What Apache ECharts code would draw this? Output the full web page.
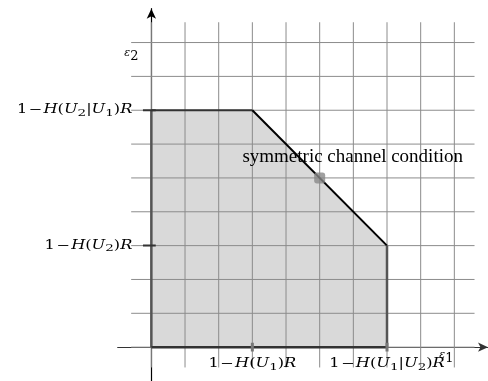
<!DOCTYPE html>
<html>
<head>
<meta charset="utf-8">
<script src="https://cdn.jsdelivr.net/npm/echarts@6/dist/echarts.min.js"></script>
<style>
  html, body { margin: 0; padding: 0; background: #fff; }
  #main { width: 488px; height: 381px; }
</style>
</head>
<body>
<div id="main"></div>
<script>
// grid of unit squares
const gridTicks = [0, 1, 2, 3, 4, 5, 6, 7, 8, 9];
const gridMin = -0.6;
const gridMax = 9.6;

// achievable region (corner points, clockwise from origin)
const regionX = [0, 0, 3, 7, 7];
const regionY = [0, 7, 7, 3, 0];

// marked corner values on each axis
const xTickValues = [3, 7];
const xTickLabels = ['1−H(U_1)R', '1−H(U_1|U_2)R'];
const yTickValues = [3, 7];
const yTickLabels = ['1−H(U_2)R', '1−H(U_2|U_1)R'];

// symmetric channel point
const symPoint = [5, 5];
const symLabel = 'symmetric channel condition';

const xAxisName = 'ε_1';
const yAxisName = 'ε_2';

const MATH = 'DejaVu Serif';

// turn "1−H(U_1)R" into rich text tokens
function toRich(s) {
  let out = '';
  for (let i = 0; i < s.length; i++) {
    const c = s[i];
    if (c === '_') { out += '{s|' + s[i + 1] + '}'; i++; }
    else if (c === 'ε') out += '{e|ε}';
    else if (c === '−') out += '{m|−}';
    else if (/[A-Za-z]/.test(c)) out += '{i|' + c + '}';
    else out += '{n|' + c + '}';
  }
  return out;
}

const mathRich = {
  n: { fontFamily: MATH, fontSize: 12, lineHeight: 16, fill: '#000' },
  i: { fontFamily: MATH, fontSize: 12, fontStyle: 'italic', lineHeight: 16, fill: '#000' },
  m: { fontFamily: MATH, fontSize: 12, lineHeight: 16, fill: '#000', padding: [0, 1, 0, 1] },
  s: { fontFamily: MATH, fontSize: 10, lineHeight: 8, verticalAlign: 'bottom', fill: '#000' },
  e: { fontFamily: MATH, fontSize: 11, fontStyle: 'italic', lineHeight: 6, verticalAlign: 'top', fill: '#000' },
  t: { fontFamily: 'Liberation Serif', fontSize: 19, lineHeight: 22, fill: '#000' }
};
const nameRich = Object.assign({}, mathRich, {
  s: { fontFamily: MATH, fontSize: 13, lineHeight: 18, fill: '#000' }
});

function line(data, color, width) {
  return {
    type: 'line', data: data, symbol: 'none', silent: true, animation: false, z: 3,
    lineStyle: { color: color, width: width, cap: 'butt' }
  };
}

function textSeries(items) {
  return {
    type: 'custom',
    coordinateSystem: 'cartesian2d',
    silent: true,
    animation: false,
    z: 10,
    data: items.map(d => d.at),
    renderItem(params, api) {
      const it = items[params.dataIndex];
      const p = api.coord([api.value(0), api.value(1)]);
      return {
        type: 'text',
        x: p[0] + it.dx,
        y: p[1] + it.dy,
        scaleX: it.sx || 1,
        style: {
          text: it.text,
          rich: it.rich || mathRich,
          align: it.align,
          verticalAlign: 'middle'
        }
      };
    }
  };
}

const regionPts = regionX.map((x, i) => [x, regionY[i]]);
const edgeStyle = [
  ['#555', 2.5], ['#333', 2], ['#000', 2], ['#555', 2.5], ['#333', 2.5]
];
const edges = regionPts.map((p, i) => {
  const q = regionPts[(i + 1) % regionPts.length];
  return line([p, q], edgeStyle[i][0], edgeStyle[i][1]);
});

const gridLines = gridTicks.flatMap(k => [
  line([[k, gridMin], [k, gridMax]], '#8c8c8c', 1),
  line([[gridMin, k], [gridMax, k]], '#8c8c8c', 1)
]);

const yMarks = yTickValues.map(v => line([[-0.25, v], [0.13, v]], '#333', 2));
const xMarks = xTickValues.map(v => line([[v, -0.13], [v, 0.13]], '#777', 3));

const labels = textSeries(
  yTickValues.map((v, i) => ({ at: [0, v], dx: -19, dy: 0, sx: 1.35, align: 'right', text: toRich(yTickLabels[i]) }))
    .concat(xTickValues.map((v, i) => ({ at: [v, 0], dx: 0, dy: 17, sx: 1.35, align: 'center', text: toRich(xTickLabels[i]) })))
    .concat([
      { at: [0, 9], dx: -20, dy: 14, sx: 1, align: 'center', text: toRich(yAxisName), rich: nameRich },
      { at: [9, 0], dx: -8, dy: 11, sx: 1, align: 'center', text: toRich(xAxisName), rich: nameRich },
      { at: symPoint, dx: 33, dy: -21, sx: 1, align: 'center', text: '{t|' + symLabel + '}' }
    ])
);

const chart = echarts.init(document.getElementById('main'), null, { renderer: 'canvas' });
chart.setOption({
  animation: false,
  backgroundColor: '#fff',
  grid: { left: 117.7, top: 8.7, width: 374, height: 374, containLabel: false },
  xAxis: {
    type: 'value', min: -1, max: 10,
    axisLine: { show: true, onZero: true, symbol: ['none', 'arrow'], symbolSize: [7, 10], lineStyle: { color: '#333', width: 1.2 } },
    axisTick: { show: false }, axisLabel: { show: false }, splitLine: { show: false }
  },
  yAxis: {
    type: 'value', min: -1, max: 10,
    axisLine: { show: true, onZero: true, symbol: ['none', 'arrow'], symbolSize: [7, 10], lineStyle: { color: '#000', width: 1.2 } },
    axisTick: { show: false }, axisLabel: { show: false }, splitLine: { show: false }
  },
  series: [
    {
      type: 'line', data: regionPts, symbol: 'none', silent: true, z: 1,
      lineStyle: { width: 0 },
      areaStyle: { color: '#d9d9d9', opacity: 1 }
    }
  ].concat(gridLines, edges, yMarks, xMarks, [
    {
      type: 'scatter', data: [symPoint], symbol: 'roundRect', symbolSize: 11, silent: true, z: 8,
      itemStyle: { color: '#888' }
    },
    labels
  ])
});
</script>
</body>
</html>
